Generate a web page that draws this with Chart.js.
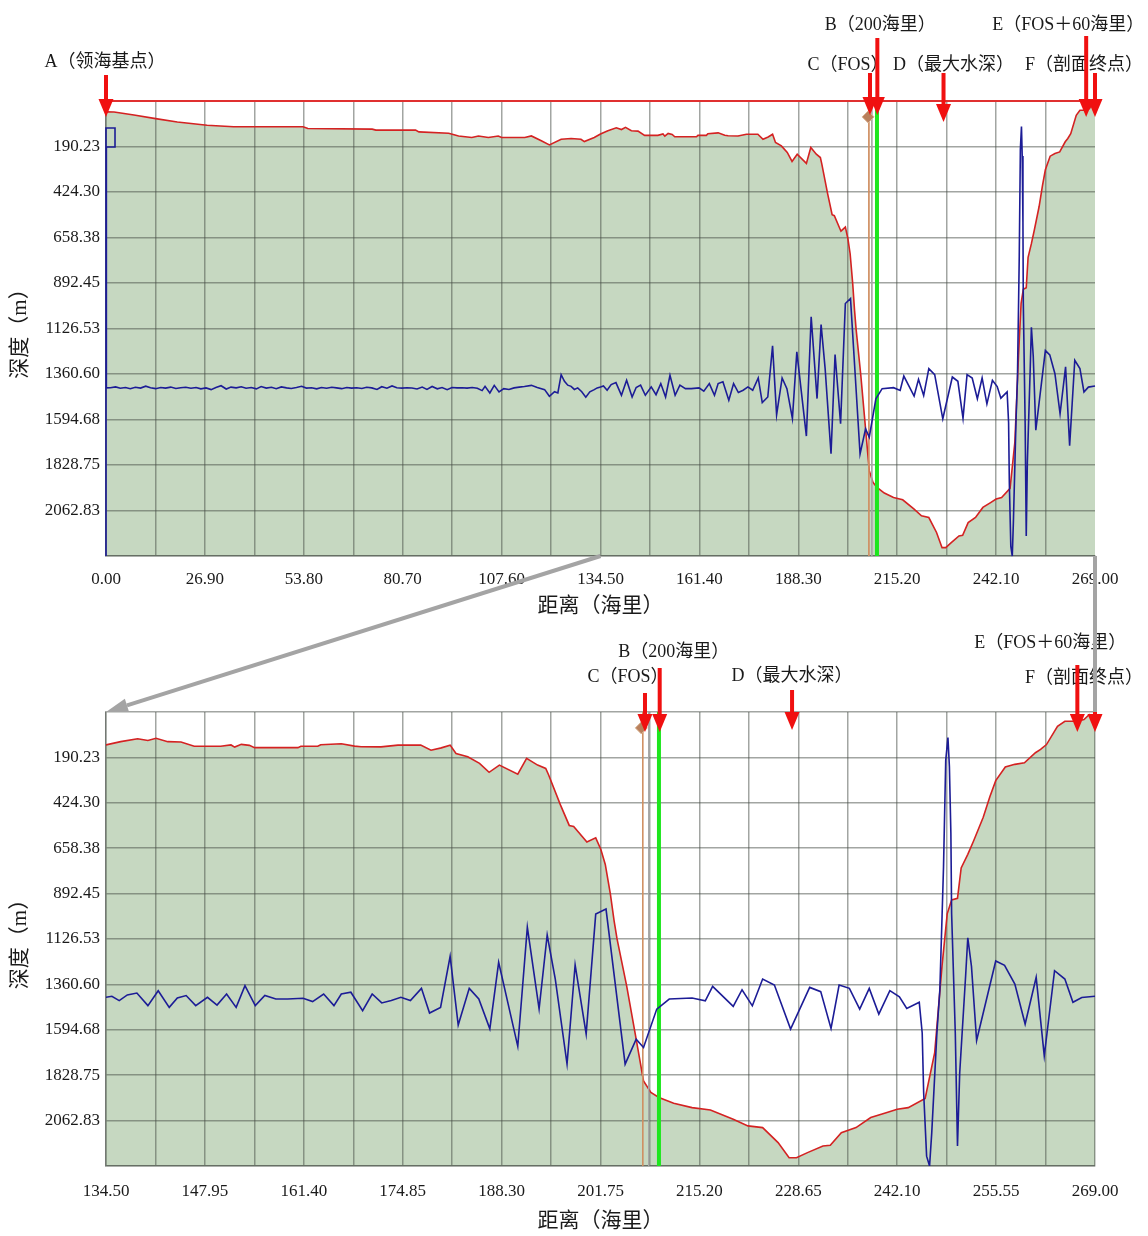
<!DOCTYPE html>
<html>
<head>
<meta charset="utf-8">
<script src="https://cdn.jsdelivr.net/npm/chart.js@4.4.0/dist/chart.umd.min.js"></script>
<style>
    html, body { margin: 0; padding: 0; background: #fff; }
    #wrap { position: relative; width: 1148px; height: 1236px; }
    #top-chart { position: absolute; left: 0; top: 0; }
    #bottom-chart { position: absolute; left: 0; top: 625px; }
    #links { position: absolute; left: 0; top: 0; pointer-events: none; }
</style>
</head>
<body>
<div id="wrap">
    <canvas id="top-chart" width="1148" height="625"></canvas>
    <canvas id="bottom-chart" width="1148" height="611"></canvas>
    <canvas id="links" width="1148" height="1236"></canvas>
</div>
<script>
// --------------------------------
// Data
// --------------------------------

// seabed profile: distance (nmi) / depth (m)
const profileDist = [
    0, 2.2, 7.6, 13.5, 19.4, 27.5, 34.7, 53.6, 54.9, 72.4,
    73.4, 84.2, 85.1, 93.2, 95.9, 99.5, 101.3, 104.0, 106.7, 107.6,
    113.9, 115.7, 118.4, 120.6, 123.8, 126.5, 129.2, 130.1, 132.8, 134.5,
    136.5, 138.8, 140.2, 141.3, 142.9, 144.7, 146.5, 150.1, 151.5, 152.0,
    152.9, 154.0, 154.7, 160.6, 161.0, 163.3, 163.7, 166.5, 168.3, 169.2,
    171.9, 174.2, 177.3, 178.7, 180.1, 181.3, 182.1, 183.7, 185.3, 186.6,
    188.0, 190.5, 191.7, 193.2, 194.3, 194.7, 196.3, 197.5, 198.1, 199.9,
    201.1, 201.8, 202.4, 203.1, 203.6, 204.0, 205.3, 206.6, 207.6, 208.6,
    209.7, 211.7, 214.2, 216.7, 219.8, 221.8, 223.8, 225.9, 227.4, 228.4,
    229.9, 232.0, 233.0, 234.5, 236.5, 238.5, 240.6, 242.1, 243.6, 245.9,
    247.2, 247.7, 248.2, 248.9, 249.5, 250.3, 250.8, 251.7, 252.5, 253.8,
    254.7, 255.5, 256.8, 258.1, 259.4, 260.9, 261.6, 262.4, 263.9, 264.9,
    266.5, 267.5, 268.2, 268.8, 269.0
];
const profileDepth = [
    12, 12.5, 28, 47, 64, 81, 89, 89, 98, 101,
    106, 106, 115, 122, 136, 144, 136, 144, 136, 144,
    144, 136, 161, 182, 153, 149, 153, 165, 144, 126,
    109, 94, 103, 92, 109, 111, 133, 133, 126, 137,
    123, 128, 140, 140, 133, 133, 125, 120, 132, 135,
    136, 127, 127, 153, 141, 127, 170, 187, 221, 267,
    230, 277, 195, 230, 247, 281, 435, 541, 546, 626,
    605, 665, 742, 896, 1033, 1126, 1367, 1643, 1858, 1918,
    1944, 1973, 1996, 2008, 2056, 2090, 2099, 2176, 2254, 2254,
    2228, 2194, 2190, 2125, 2099, 2047, 2022, 2004, 1996, 1949,
    1712, 1488, 1264, 997, 925, 917, 760, 690, 620, 499,
    393, 310, 240, 226, 218, 166, 149, 124, 30, 4,
    4, -5, -30, 4, 4
];

// blue curve, plotted on the same depth axis
const curveDist = [
    0, 0, 2.45, 2.45, 0.05, 0.1, 1.2, 2.6, 3.9, 5.3,
    6.6, 8.0, 9.4, 10.8, 12.1, 13.5, 14.9, 16.2, 17.6, 19.0,
    20.3, 21.7, 23.1, 24.5, 25.8, 27.2, 28.6, 29.9, 31.3, 32.7,
    34.0, 35.4, 36.8, 38.1, 39.5, 40.9, 42.2, 43.6, 45.0, 46.3,
    47.7, 49.1, 50.4, 51.8, 53.2, 54.5, 55.9, 57.3, 58.6, 60.0,
    61.4, 62.7, 64.1, 65.5, 66.8, 68.2, 69.6, 70.9, 72.3, 73.7,
    75.0, 76.4, 77.8, 79.1, 80.5, 81.9, 83.2, 84.6, 86.0, 87.3,
    88.7, 90.1, 91.4, 92.8, 94.1, 95.5, 96.9, 98.2, 99.6, 101.0,
    102.3, 103.1, 104.4, 105.6, 106.9, 108.2, 109.6, 111.0, 112.4, 113.8,
    115.7, 117.3, 119.3, 120.6, 122.0, 122.9, 123.8, 124.7, 125.6, 126.5,
    127.4, 128.3, 129.4, 130.5, 131.6, 132.8, 133.6, 134.5, 135.3, 136.3,
    137.4, 138.7, 140.2, 141.6, 143.1, 144.2, 145.4, 146.7, 148.3, 149.6,
    150.9, 152.2, 153.4, 154.8, 156.1, 157.6, 159.2, 161.3, 162.6, 164.1,
    165.5, 166.5, 167.8, 169.4, 170.7, 172.0, 173.3, 174.6, 175.9, 177.4,
    178.5, 180.0, 181.3, 182.4, 183.9, 185.2, 186.7, 187.9, 190.5, 191.8,
    193.4, 194.5, 195.6, 197.2, 198.3, 199.8, 201.1, 202.5, 205.1, 206.6,
    207.6, 209.4, 211.1, 214.2, 216.0, 217.0, 219.8, 221.0, 222.4, 223.8,
    225.4, 227.6, 230.2, 231.7, 233.1, 234.2, 235.6, 237.0, 238.3, 239.6,
    241.1, 242.4, 243.4, 245.1, 245.5, 245.7, 246.1, 246.5, 246.8, 247.5,
    247.9, 248.2, 248.4, 248.7, 249.0, 249.2, 249.4, 249.5, 250.0, 250.3,
    250.6, 251.4, 251.7, 252.2, 252.9, 255.5, 256.7, 258.1, 259.5, 261.0,
    262.1, 263.5, 264.9, 266.0, 267.2, 269.0
];
const curveValue = [
    2297, 95, 95, 193, 193, 1432, 1431, 1427, 1434, 1430,
    1436, 1429, 1433, 1423, 1431, 1436, 1430, 1433, 1428, 1435,
    1431, 1429, 1434, 1430, 1437, 1432, 1441, 1430, 1421, 1438,
    1428, 1432, 1426, 1434, 1430, 1437, 1425, 1433, 1429, 1436,
    1427, 1432, 1435, 1430, 1424, 1433, 1431, 1437, 1430, 1434,
    1429, 1432, 1436, 1430, 1433, 1431, 1435, 1429, 1432, 1440,
    1426, 1434, 1422, 1431, 1433, 1431, 1433, 1438, 1428, 1440,
    1425, 1437, 1430, 1441, 1430, 1432, 1431, 1433, 1430, 1434,
    1446, 1424, 1458, 1419, 1453, 1436, 1440, 1432, 1428, 1425,
    1419, 1430, 1441, 1475, 1452, 1458, 1364, 1398, 1418, 1424,
    1440, 1432, 1452, 1480, 1452, 1441, 1432, 1427, 1422, 1444,
    1415, 1405, 1470, 1393, 1479, 1430, 1418, 1470, 1427, 1467,
    1410, 1479, 1367, 1470, 1418, 1436, 1436, 1432, 1449, 1410,
    1470, 1410, 1401, 1496, 1410, 1456, 1444, 1427, 1444, 1381,
    1508, 1479, 1216, 1570, 1381, 1436, 1590, 1247, 1680, 1066,
    1487, 1106, 1333, 1771, 1260, 1616, 998, 972, 1772, 1643,
    1686, 1488, 1436, 1431, 1445, 1371, 1474, 1388, 1471, 1333,
    1364, 1591, 1376, 1398, 1588, 1364, 1381, 1488, 1381, 1514,
    1393, 1425, 1485, 1453, 1611, 1920, 2246, 2297, 2125, 1611,
    1388, 1011, 754, 205, 88, 239, 582, 994, 1611, 2194,
    1817, 1320, 1120, 1268, 1650, 1240, 1262, 1359, 1565, 1324,
    1729, 1290, 1333, 1453, 1428, 1422
];

// axis ticks
const depthTicks = [190.23, 424.30, 658.38, 892.45, 1126.53, 1360.60, 1594.68, 1828.75, 2062.83];
const depthMin = -43.85;
const depthMax = 2296.90;
const topDistTicks = [0, 26.90, 53.80, 80.70, 107.60, 134.50, 161.40, 188.30, 215.20, 242.10, 269.00];
const bottomDistTicks = [134.50, 147.95, 161.40, 174.85, 188.30, 201.75, 215.20, 228.65, 242.10, 255.55, 269.00];

// reference points along the profile
const markerKeys = ['A', 'B', 'C', 'D', 'E', 'F'];
const markerNames = ['A（领海基点）', 'B（200海里）', 'C（FOS）', 'D（最大水深）', 'E（FOS＋60海里）', 'F（剖面终点）'];
const markerDist = [0, 209.8, 207.8, 227.8, 266.6, 269.0];

const fosDist = 207.5;
const fosHelperDist = 208.3;
const line200Dist = 209.7;
const fosPoint = [207.3, 38];

// --------------------------------
// Styles
// --------------------------------

const FONT = '"Liberation Serif", "Noto Sans CJK SC", serif';
const GRID = 'rgba(70, 75, 70, 0.5)';
const FILL = 'rgb(198, 216, 193)';
const RED = '#d42222';
const BLUE = '#1c1c96';

// [arrow start, arrow tip, label dx, label dy] relative to plot top / arrow x
const topMarkerLayout = {
    A: [-26, 16, -1, -39], B: [-63, 14, 3, -76], C: [-28, 14, -22, -36],
    D: [-28, 21, 10, -36], E: [-65, 16, -18, -76], F: [-28, 16, -11, -36]
};
const bottomMarkerLayout = {
    B: [-44, 20, 14, -60], C: [-19, 20, -17, -35], D: [-22, 18, 0, -36],
    E: [-47, 20, -27, -69], F: [-22, 20, -11, -34]
};

// --------------------------------
// Functions
// --------------------------------

function toPoints(xs, ys) {
    return xs.map((x, i) => ({ x: x, y: ys[i] }));
}

function vLine(dist) {
    return [{ x: dist, y: depthMin }, { x: dist, y: depthMax }];
}

function drawArrow(ctx, x, y0, y1) {
    const headW = 15;
    const headL = 18;
    ctx.fillStyle = '#f01010';
    ctx.fillRect(x - 2, y0, 4, y1 - y0 - headL + 1);
    ctx.beginPath();
    ctx.moveTo(x - headW / 2, y1 - headL);
    ctx.lineTo(x + headW / 2, y1 - headL);
    ctx.lineTo(x, y1);
    ctx.closePath();
    ctx.fill();
}

const markerPlugin = {
    id: 'markers',
    afterDatasetsDraw(chart, args, opts) {
        const ctx = chart.ctx;
        const xScale = chart.scales.x;
        const top = chart.chartArea.top;
        const layout = opts.layout;
        const items = [];

        for (let i = 0; i < markerKeys.length; i++) {
            const l = layout[markerKeys[i]];
            if (!l) continue;
            items.push({ x: xScale.getPixelForValue(markerDist[i]), name: markerNames[i], l: l });
        }

        ctx.save();
        ctx.font = '18px ' + FONT;
        ctx.fillStyle = '#1a1a1a';
        ctx.textAlign = 'center';
        ctx.textBaseline = 'middle';
        items.forEach(it => ctx.fillText(it.name, it.x + it.l[2], top + it.l[3]));
        items.forEach(it => drawArrow(ctx, it.x, top + it.l[0], top + it.l[1]));
        ctx.restore();
    }
};

function makeChart(canvas, cfg) {
    const datasets = [
        {
            label: 'curve',
            data: toPoints(curveDist, curveValue),
            borderColor: BLUE,
            borderWidth: 1.6,
            pointRadius: 0,
            fill: false,
            clip: cfg.curveClip
        },
        {
            label: 'fos',
            data: [{ x: fosPoint[0], y: fosPoint[1] }],
            showLine: false,
            pointStyle: 'rectRot',
            pointRadius: 6,
            backgroundColor: '#b9805c',
            borderColor: '#d9b494',
            borderWidth: 1
        },
        {
            label: '200',
            data: vLine(line200Dist),
            borderColor: '#1ee61e',
            borderWidth: 4,
            pointRadius: 0
        },
        {
            label: 'fosLine',
            data: vLine(fosDist),
            borderColor: '#cf8f62',
            borderWidth: 1,
            pointRadius: 0
        },
        {
            label: 'fosHelper',
            data: vLine(fosHelperDist),
            borderColor: '#a8a8a8',
            borderWidth: 1,
            pointRadius: 0
        },
        {
            label: 'profile',
            data: toPoints(profileDist, profileDepth),
            borderColor: RED,
            borderWidth: 1.6,
            pointRadius: 0,
            backgroundColor: FILL,
            fill: { value: depthMax }
        }
    ];

    if (cfg.seaLine) {
        datasets.unshift({
            label: 'sea',
            data: [{ x: cfg.xMin, y: depthMin }, { x: cfg.xMax, y: depthMin }],
            borderColor: '#e03030',
            borderWidth: 2,
            pointRadius: 0,
            clip: 3
        });
    }

    const xGrid = [];
    for (let i = 0; i < cfg.xTicks.length; i++) {
        xGrid.push(cfg.xTicks[i]);
        if (i < cfg.xTicks.length - 1) xGrid.push((cfg.xTicks[i] + cfg.xTicks[i + 1]) / 2);
    }

    return new Chart(canvas, {
        type: 'line',
        data: { datasets: datasets },
        plugins: [markerPlugin],
        options: {
            responsive: false,
            animation: false,
            events: [],
            layout: { padding: { top: cfg.padTop, right: 53, left: 0, bottom: 0 } },
            plugins: {
                legend: { display: false },
                tooltip: { enabled: false },
                filler: { drawTime: 'beforeDraw' },
                markers: { layout: cfg.markerLayout }
            },
            scales: {
                x: {
                    type: 'linear',
                    min: cfg.xMin,
                    max: cfg.xMax,
                    afterBuildTicks: scale => {
                        scale.ticks = xGrid.map(v => ({ value: v }));
                    },
                    afterFit: scale => { scale.height = cfg.xAxisHeight; },
                    ticks: {
                        autoSkip: false,
                        maxRotation: 0,
                        padding: cfg.xTickPad,
                        color: '#1a1a1a',
                        font: { family: FONT, size: 17 },
                        callback: (v, i) => (i % 2 === 0 ? Number(v).toFixed(2) : '')
                    },
                    grid: {
                        drawTicks: false,
                        lineWidth: 1.5,
                        color: ctx => (cfg.hideRightEdge && ctx.tick && ctx.tick.value >= cfg.xMax - 0.01) ? 'rgba(0,0,0,0)' : GRID
                    },
                    border: { color: GRID, width: 1.5 },
                    title: {
                        display: true,
                        text: '距离（海里）',
                        color: '#1a1a1a',
                        font: { family: FONT, size: 21 },
                        padding: { top: 0, bottom: cfg.xTitlePad }
                    }
                },
                y: {
                    type: 'linear',
                    reverse: true,
                    min: depthMin,
                    max: depthMax,
                    afterBuildTicks: scale => {
                        scale.ticks = [depthMin].concat(depthTicks, [depthMax]).map(v => ({ value: v }));
                    },
                    afterFit: scale => { scale.width = 106; },
                    ticks: {
                        padding: 6,
                        color: '#1a1a1a',
                        font: { family: FONT, size: 17 },
                        callback: v => (v === depthMin || v === depthMax ? '' : Number(v).toFixed(2))
                    },
                    grid: { drawTicks: false, lineWidth: 1.5, color: GRID },
                    border: { color: GRID, width: 1.5 },
                    title: {
                        display: true,
                        text: '深度（m）',
                        color: '#1a1a1a',
                        font: { family: FONT, size: 21 },
                        padding: { top: 8, bottom: 0 }
                    }
                }
            }
        }
    });
}

// --------------------------------
// Charts
// --------------------------------

const topChart = makeChart(document.getElementById('top-chart'), {
    xMin: 0,
    xMax: 269,
    xTicks: topDistTicks,
    padTop: 101,
    xAxisHeight: 69,
    xTickPad: 13,
    xTitlePad: 6,
    seaLine: true,
    hideRightEdge: true,
    curveClip: 2,
    markerLayout: topMarkerLayout
});

const bottomChart = makeChart(document.getElementById('bottom-chart'), {
    xMin: 134.5,
    xMax: 269,
    xTicks: bottomDistTicks,
    padTop: 87,
    xAxisHeight: 70,
    xTickPad: 15,
    xTitlePad: 2,
    seaLine: false,
    hideRightEdge: false,
    curveClip: undefined,
    markerLayout: bottomMarkerLayout
});

// --------------------------------
// Zoom connector lines
// --------------------------------

function drawLinks() {
    const ctx = document.getElementById('links').getContext('2d');
    const bottomOffset = 625;
    const x0 = topChart.scales.x.getPixelForValue(bottomChart.scales.x.min);
    const y0 = topChart.chartArea.bottom;
    const x1 = bottomChart.chartArea.left;
    const y1 = bottomChart.chartArea.top + bottomOffset;
    const xr = topChart.chartArea.right;

    ctx.strokeStyle = '#a4a4a4';
    ctx.fillStyle = '#a4a4a4';
    ctx.lineWidth = 4;

    const ang = Math.atan2(y1 - y0, x1 - x0);
    const headL = 22;
    const headW = 7;
    const bx = x1 - Math.cos(ang) * headL;
    const by = y1 - Math.sin(ang) * headL;

    ctx.beginPath();
    ctx.moveTo(x0, y0);
    ctx.lineTo(bx, by);
    ctx.stroke();

    ctx.beginPath();
    ctx.moveTo(x1, y1);
    ctx.lineTo(bx - Math.sin(ang) * headW, by + Math.cos(ang) * headW);
    ctx.lineTo(bx + Math.sin(ang) * headW, by - Math.cos(ang) * headW);
    ctx.closePath();
    ctx.fill();

    ctx.beginPath();
    ctx.moveTo(xr, y0);
    ctx.lineTo(xr, y1);
    ctx.stroke();
}

drawLinks();
</script>
</body>
</html>
